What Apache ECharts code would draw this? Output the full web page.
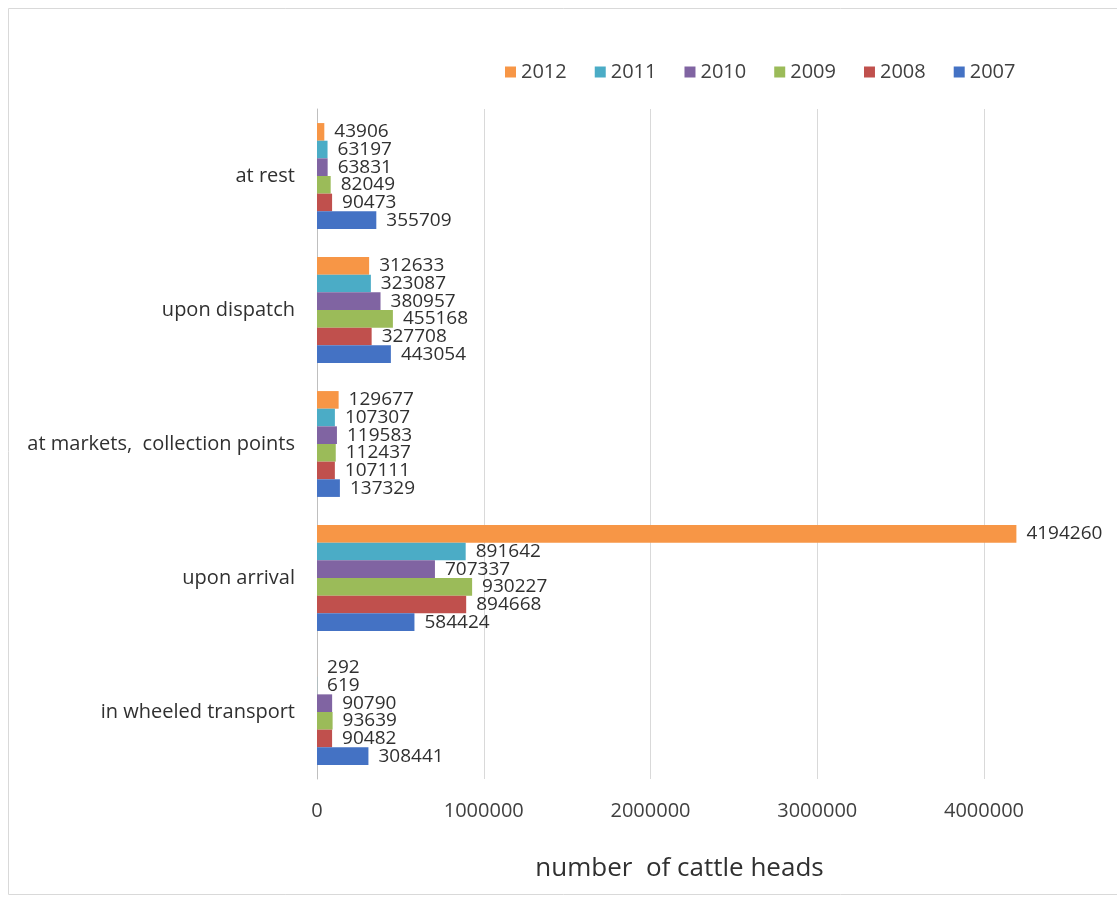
<!DOCTYPE html>
<html>
<head>
<meta charset="utf-8">
<script src="https://cdn.jsdelivr.net/npm/echarts@6/dist/echarts.min.js"></script>
<style>
  html, body { margin: 0; padding: 0; background: #fff; }
  #main { width: 1117px; height: 899px; }
</style>
</head>
<body>
<div id="main"></div>
<script>
// categories bottom -> top (as in the chart)
const categories = ["in wheeled transport", "upon arrival", "at markets,  collection points", "upon dispatch", "at rest"];
const years = ["2012", "2011", "2010", "2009", "2008", "2007"];
const colors = ["#f79646", "#4bacc6", "#8064a2", "#9bbb59", "#c0504d", "#4472c4"];

const v2007 = [308441, 584424, 137329, 443054, 355709];
const v2008 = [90482, 894668, 107111, 327708, 90473];
const v2009 = [93639, 930227, 112437, 455168, 82049];
const v2010 = [90790, 707337, 119583, 380957, 63831];
const v2011 = [619, 891642, 107307, 323087, 63197];
const v2012 = [292, 4194260, 129677, 312633, 43906];
const values = [v2012, v2011, v2010, v2009, v2008, v2007];

const xTicks = [0, 1000000, 2000000, 3000000, 4000000];

const font = "'Open Sans', sans-serif";

let series = years.map((y, i) => ({
  name: y,
  type: "bar",
  data: values[i],
  clip: false,
  barGap: "0%",
  barCategoryGap: "21%",
  itemStyle: { color: colors[i] },
  label: {
    show: true,
    position: "right",
    distance: 10,
    color: "#303030",
    fontFamily: font,
    fontSize: 19
  }
}));

let option = {
  animation: false,
  color: colors,
  legend: {
    data: years,
    top: 57,
    left: 500,
    itemWidth: 11,
    itemHeight: 11,
    itemGap: 28,
    icon: "rect",
    textStyle: { color: "#404040", fontSize: 20, fontFamily: font }
  },
  grid: {
    left: 317,
    right: 133,
    top: 109,
    bottom: 120
  },
  xAxis: {
    type: "value",
    min: xTicks[0],
    max: xTicks[xTicks.length - 1],
    interval: 1000000,
    name: "number  of cattle heads",
    nameLocation: "middle",
    nameGap: 77,
    nameTextStyle: { color: "#303030", fontSize: 26, fontFamily: font, padding: [0, 0, 0, 58] },
    axisLine: { show: false },
    axisTick: { show: false },
    splitLine: { show: true, lineStyle: { color: "#d9d9d9", width: 1 } },
    axisLabel: {
      color: "#404040", fontSize: 20, fontFamily: font, margin: 22,
      formatter: v => String(v)
    }
  },
  yAxis: {
    type: "category",
    data: categories,
    axisLine: { show: true, lineStyle: { color: "#bfbfbf" } },
    axisTick: { show: false },
    axisLabel: { color: "#303030", fontSize: 20, fontFamily: font, margin: 22 }
  },
  graphic: [{
    type: "rect",
    shape: { x: 8.5, y: 8.5, width: 1120, height: 886 },
    style: { fill: null, stroke: "#d9d9d9", lineWidth: 1 },
    silent: true
  }],
  series: series
};

let chart = echarts.init(document.getElementById("main"));
chart.setOption(option);
</script>
</body>
</html>
